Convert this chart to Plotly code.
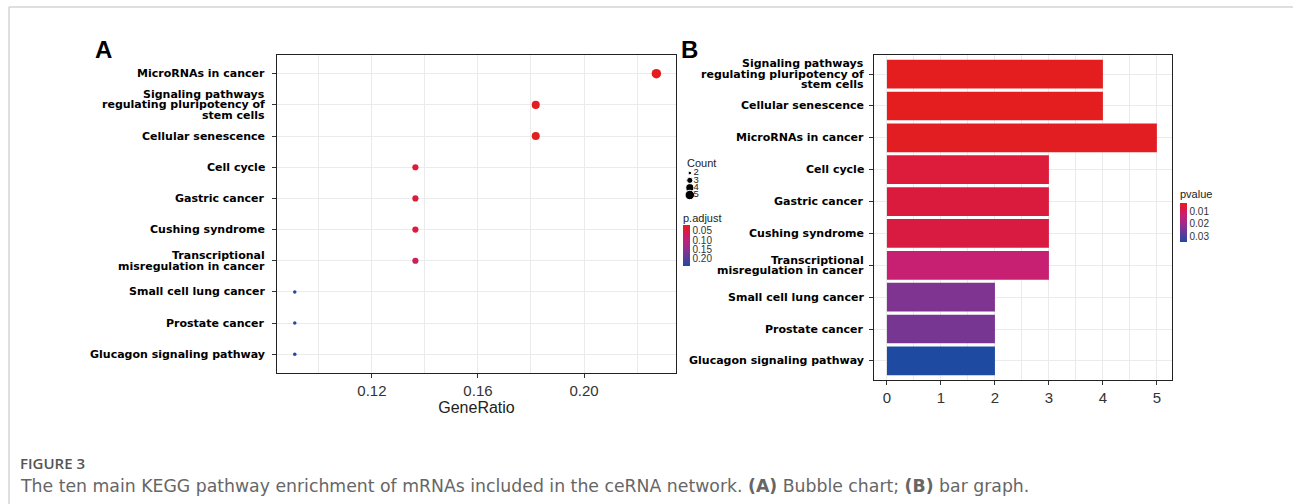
import plotly.graph_objects as go

W, H = 1293, 504

# ---------------- data ----------------
# Panel A: bubble chart (GeneRatio, Count, p.adjust)
a_terms = ["MicroRNAs in cancer",
           "Signaling pathways<br>regulating pluripotency of<br>stem cells",
           "Cellular senescence", "Cell cycle", "Gastric cancer", "Cushing syndrome",
           "Transcriptional<br>misregulation in cancer",
           "Small cell lung cancer", "Prostate cancer", "Glucagon signaling pathway"]
a_generatio = [0.2273, 0.1818, 0.1818, 0.1364, 0.1364, 0.1364, 0.1364, 0.0909, 0.0909, 0.0909]
a_count = [5, 4, 4, 3, 3, 3, 3, 2, 2, 2]
a_padjust = [0.018, 0.020, 0.020, 0.044, 0.045, 0.046, 0.068, 0.236, 0.237, 0.238]

# Panel B: bar graph (Count, pvalue)
b_terms = ["Signaling pathways<br>regulating pluripotency of<br>stem cells",
           "Cellular senescence", "MicroRNAs in cancer", "Cell cycle", "Gastric cancer",
           "Cushing syndrome", "Transcriptional<br>misregulation in cancer",
           "Small cell lung cancer", "Prostate cancer", "Glucagon signaling pathway"]
b_count = [4, 4, 5, 3, 3, 3, 3, 2, 2, 2]
b_pvalue = [0.0036, 0.0037, 0.0042, 0.0072, 0.0076, 0.0082, 0.0130, 0.0235, 0.0245, 0.0348]

legend_counts = [2, 3, 4, 5]
padj_ticks = [0.05, 0.10, 0.15, 0.20]
pval_ticks = [0.01, 0.02, 0.03]

# ---------------- helpers ----------------
def px_x(p):
    return p / W

def px_y(p):
    return 1 - p / H

def dot_size(c):
    return (12.25 + 26 * (c - 2)) ** 0.5

# colours: low p -> red, high p -> blue (colour value is negated p so low p sits on top)
cscale = [[0.0, "#1F4AA2"], [0.2, "#5A3C9A"], [0.35, "#7D3592"], [0.5, "#A42A86"],
          [0.7, "#C71F72"], [0.85, "#DA1B42"], [1.0, "#E41E1E"]]

FONT = "Liberation Sans, Arial, sans-serif"
LABEL_FONT = dict(family="DejaVu Sans", size=11, color="black", weight="bold")
LINE_H = 10.5

fig = go.Figure()

# Panel A bubbles
fig.add_trace(go.Scatter(
    x=a_generatio, y=a_terms, mode="markers",
    marker=dict(size=[dot_size(c) for c in a_count], color=[-p for p in a_padjust],
                coloraxis="coloraxis", line=dict(width=0), opacity=1),
    xaxis="x", yaxis="y", showlegend=False))

# Panel B bars
fig.add_trace(go.Bar(
    x=b_count, y=b_terms, orientation="h", width=0.9,
    marker=dict(color=[-p for p in b_pvalue], coloraxis="coloraxis2", line=dict(width=0)),
    xaxis="x2", yaxis="y2", showlegend=False))

# Count size legend (small dedicated axis)
fig.add_trace(go.Scatter(
    x=[0.4] * len(legend_counts), y=legend_counts, mode="markers",
    marker=dict(size=[dot_size(c) for c in legend_counts], color="black", opacity=1),
    xaxis="x3", yaxis="y3", showlegend=False, cliponaxis=False))
fig.add_trace(go.Scatter(
    x=[0.62] * len(legend_counts), y=legend_counts, mode="text",
    text=[str(c) for c in legend_counts], textposition="middle right",
    textfont=dict(size=9.5, color="#222", family=FONT),
    xaxis="x3", yaxis="y3", showlegend=False, cliponaxis=False))

grid = "#EBEBEB"
axis_common = dict(showline=True, mirror=True, linecolor="#222", linewidth=1.4,
                   ticks="outside", ticklen=4, tickcolor="#333", zeroline=False,
                   gridcolor=grid, gridwidth=1)

fig.update_layout(
    width=W, height=H, margin=dict(l=0, r=0, t=0, b=0),
    paper_bgcolor="white", plot_bgcolor="white",
    font=dict(family=FONT, color="#222"),
    xaxis=dict(domain=[px_x(277), px_x(676)], anchor="y", range=[0.0842, 0.2347],
               tickvals=[0.12, 0.16, 0.20], ticktext=["0.12", "0.16", "0.20"],
               tickfont=dict(size=15, color="#333"),
               title=dict(text="GeneRatio", font=dict(size=16, color="#222"), standoff=2),
               minor=dict(tickvals=[0.10, 0.14, 0.18, 0.22], showgrid=True, gridcolor=grid,
                          gridwidth=1, ticks=""),
               **axis_common),
    yaxis=dict(domain=[px_y(373), px_y(55)], anchor="x", type="category",
               categoryorder="array", categoryarray=a_terms, range=[9.6, -0.6],
               showticklabels=False, **axis_common),
    xaxis2=dict(domain=[px_x(874), px_x(1172)], anchor="y2", range=[-0.24, 5.28],
                dtick=1, tick0=0, tickfont=dict(size=15, color="#333"),
                minor=dict(dtick=0.5, tick0=0, showgrid=True, gridcolor=grid, gridwidth=1,
                           ticks=""),
                **axis_common),
    yaxis2=dict(domain=[px_y(380), px_y(55)], anchor="x2", type="category",
                categoryorder="array", categoryarray=b_terms, range=[9.6, -0.6],
                showticklabels=False, **axis_common),
    xaxis3=dict(domain=[px_x(683), px_x(700)], anchor="y3", range=[0, 1], visible=False),
    yaxis3=dict(domain=[px_y(198), px_y(170)], anchor="x3", range=[5.41, 1.59],
                visible=False),
    coloraxis=dict(
        colorscale=cscale, cmin=-max(a_padjust), cmax=-min(a_padjust),
        colorbar=dict(x=px_x(683), xanchor="left", y=px_y(245.5), yanchor="middle",
                      len=41, lenmode="pixels", thickness=7, xpad=0, ypad=0,
                      outlinewidth=0, ticks="",
                      tickvals=[-t for t in padj_ticks],
                      ticktext=["%.2f" % t for t in padj_ticks],
                      tickfont=dict(size=10, color="#333"))),
    coloraxis2=dict(
        colorscale=cscale, cmin=-max(b_pvalue), cmax=-min(b_pvalue),
        colorbar=dict(x=px_x(1180), xanchor="left", y=px_y(222.5), yanchor="middle",
                      len=39, lenmode="pixels", thickness=7, xpad=0, ypad=0,
                      outlinewidth=0, ticks="",
                      tickvals=[-t for t in pval_ticks],
                      ticktext=["%.2f" % t for t in pval_ticks],
                      tickfont=dict(size=10, color="#333"))),
)

annotations = []

# category labels, line by line with tight spacing (ggplot-like)
def add_labels(terms, yref, x_right):
    for t in terms:
        lines = t.split("<br>")
        n = len(lines)
        for i, ln in enumerate(lines):
            annotations.append(dict(
                text=ln, x=px_x(x_right), xref="paper", y=t, yref=yref,
                xanchor="right", yanchor="middle", showarrow=False,
                yshift=-(i - (n - 1) / 2) * LINE_H, font=LABEL_FONT))

add_labels(a_terms, "y", 267)
add_labels(b_terms, "y2", 866)

annotations += [
    dict(text="<b>A</b>", x=px_x(103), y=px_y(50), xref="paper", yref="paper",
         xanchor="center", yanchor="middle",
         showarrow=False, font=dict(size=24, color="black", family=FONT)),
    dict(text="<b>B</b>", x=px_x(690), y=px_y(50), xref="paper", yref="paper",
         xanchor="center", yanchor="middle",
         showarrow=False, font=dict(size=24, color="black", family=FONT)),
    dict(text="Count", x=px_x(685), y=px_y(163), xref="paper", yref="paper",
         xanchor="left", yanchor="middle", showarrow=False,
         font=dict(size=11, color="#222", family=FONT)),
    dict(text="p.adjust", x=px_x(681), y=px_y(218), xref="paper", yref="paper",
         xanchor="left", yanchor="middle", showarrow=False,
         font=dict(size=11, color="#222", family=FONT)),
    dict(text="pvalue", x=px_x(1178), y=px_y(194), xref="paper", yref="paper",
         xanchor="left", yanchor="middle", showarrow=False,
         font=dict(size=11, color="#222", family=FONT)),
    dict(text="FIGURE 3", x=px_x(18), y=px_y(463), xref="paper", yref="paper",
         xanchor="left", yanchor="middle", showarrow=False,
         font=dict(size=15, color="#555", family="Open Sans", weight=600)),
    dict(text="The ten main KEGG pathway enrichment of mRNAs included in the ceRNA network. "
              "<b>(A)</b> Bubble chart; <b>(B)</b> bar graph.",
         x=px_x(18), y=px_y(486), xref="paper", yref="paper",
         xanchor="left", yanchor="middle", showarrow=False,
         font=dict(size=17.3, color="#666", family="DejaVu Sans")),
]
fig.update_layout(annotations=annotations)

fig.update_layout(shapes=[
    dict(type="line", xref="paper", yref="paper", x0=px_x(9), x1=1, y0=px_y(7), y1=px_y(7),
         line=dict(color="#D5D5D5", width=1.5)),
    dict(type="line", xref="paper", yref="paper", x0=px_x(9), x1=px_x(9), y0=px_y(7), y1=0,
         line=dict(color="#D5D5D5", width=1.5)),
])

fig.write_html("out.html")
